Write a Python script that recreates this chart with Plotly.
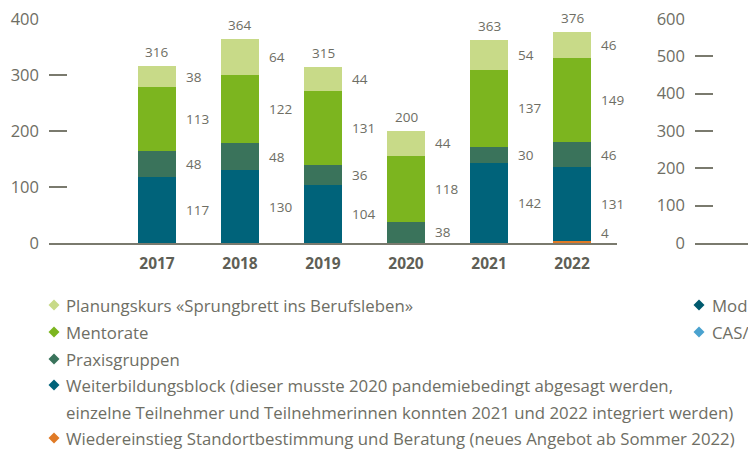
import plotly.graph_objects as go

years = ["2017", "2018", "2019", "2020", "2021", "2022"]
wiedereinstieg = [0, 0, 0, 0, 0, 4]
weiterbildung = [117, 130, 104, 0, 142, 131]
praxis = [48, 48, 36, 38, 30, 46]
mentorate = [113, 122, 131, 118, 137, 149]
planungskurs = [38, 64, 44, 44, 54, 46]

left_ticks = [0, 100, 200, 300, 400]
right_ticks = [0, 100, 200, 300, 400, 500, 600]

series = [
    ("Wiedereinstieg Standortbestimmung und Beratung (neues Angebot ab Sommer 2022)", wiedereinstieg, "#e07a26"),
    ("Weiterbildungsblock", weiterbildung, "#00637a"),
    ("Praxisgruppen", praxis, "#3a735b"),
    ("Mentorate", mentorate, "#7cb51f"),
    ("Planungskurs «Sprungbrett ins Berufsleben»", planungskurs, "#c8da88"),
]

legend_rows = [
    ("Planungskurs «Sprungbrett ins Berufsleben»", "#c8da88"),
    ("Mentorate", "#7cb51f"),
    ("Praxisgruppen", "#3a735b"),
    ("Weiterbildungsblock (dieser musste 2020 pandemiebedingt abgesagt werden,", "#00637a"),
    ("einzelne Teilnehmer und Teilnehmerinnen konnten 2021 und 2022 integriert werden)", None),
    ("Wiedereinstieg Standortbestimmung und Beratung (neues Angebot ab Sommer 2022)", "#e07a26"),
]
legend_right = [("Module", "#005a6e"), ("CAS/MAS", "#4aa2cf")]

W, H = 748, 450
GRAY = "#6e6e64"
LINE = "#7a7a6e"
FONT = "Open Sans"

def px(x):
    return x / W

def py(y):
    return 1 - y / H

x_idx = list(range(len(years)))

fig = go.Figure()
for name, vals, col in series:
    fig.add_trace(go.Bar(x=x_idx, y=vals, name=name, marker=dict(color=col, line=dict(width=0)),
                         width=0.46, showlegend=False, hoverinfo="skip"))

fig.add_trace(go.Scatter(x=[], y=[], xaxis="x2", yaxis="y2", showlegend=False))

annotations = []
for i in x_idx:
    base = 0
    for name, vals, col in series:
        v = vals[i]
        if v > 0:
            mid = base + v / 2
            ypos = max(mid, 18)
            annotations.append(dict(x=i, y=ypos, xref="x", yref="y", text=str(v), showarrow=False,
                                    xanchor="left", yanchor="middle", xshift=27,
                                    font=dict(family=FONT, size=13.5, color=GRAY)))
        base += v
    annotations.append(dict(x=i, y=base, xref="x", yref="y", text=str(base), showarrow=False,
                            xanchor="center", yanchor="middle", yshift=14,
                            font=dict(family=FONT, size=13.5, color=GRAY)))

shapes = []
row_y = [305, 332, 359, 385, 412, 438]

def diamond(cx, cy, col, r=5.5):
    path = (f"M {px(cx)},{py(cy - r)} L {px(cx + r)},{py(cy)} "
            f"L {px(cx)},{py(cy + r)} L {px(cx - r)},{py(cy)} Z")
    return dict(type="path", xref="paper", yref="paper", path=path, fillcolor=col, line=dict(width=0))

for (txt, col), yy in zip(legend_rows, row_y):
    if col:
        shapes.append(diamond(54, yy, col))
    annotations.append(dict(x=px(64), y=py(yy), xref="paper", yref="paper", text=txt, showarrow=False,
                            xanchor="left", yanchor="middle", font=dict(family=FONT, size=16.8, color=GRAY)))
for (txt, col), yy in zip(legend_right, row_y[:2]):
    shapes.append(diamond(699, yy, col))
    annotations.append(dict(x=px(710), y=py(yy), xref="paper", yref="paper", text=txt, showarrow=False,
                            xanchor="left", yanchor="middle", font=dict(family=FONT, size=16.8, color=GRAY)))

ydom = [py(243), py(19)]
fig.update_layout(
    width=W, height=H, margin=dict(l=0, r=0, t=0, b=0, autoexpand=False),
    paper_bgcolor="white", plot_bgcolor="white",
    barmode="stack", bargap=0,
    xaxis=dict(domain=[px(49), px(617)], range=[-1.301, 5.542], tickvals=x_idx, ticktext=years,
               showline=True, linecolor=LINE, linewidth=2, showgrid=False, zeroline=False, ticks="",
               automargin=False,
               tickfont=dict(family=FONT, size=15.5, color="#5f5f56", weight="bold"), ticklabelstandoff=5),
    yaxis=dict(domain=ydom, range=[0, 400], tickvals=left_ticks, showgrid=False, zeroline=False,
               showline=False, ticks="inside", ticklen=18, tickwidth=1.5, tickcolor=LINE, automargin=False,
               ticklabeloverflow="allow",
               tickfont=dict(family=FONT, size=16.5, color=GRAY), ticklabelstandoff=9),
    xaxis2=dict(domain=[px(695), 1], range=[0, 1], anchor="y2", showline=True, linecolor=LINE, linewidth=2,
                showgrid=False, zeroline=False, showticklabels=False, ticks="", automargin=False),
    yaxis2=dict(domain=ydom, range=[0, 600], anchor="x2", tickvals=right_ticks, showgrid=False, zeroline=False,
                showline=False, ticks="inside", ticklen=18, tickwidth=1.5, tickcolor=LINE, automargin=False,
                ticklabeloverflow="allow",
                tickfont=dict(family=FONT, size=16.5, color=GRAY), ticklabelstandoff=9),
    annotations=annotations, shapes=shapes,
)

fig.write_html("out.html", config={"displayModeBar": False},
               post_script="document.body.style.margin='0';document.body.style.overflow='hidden';")
